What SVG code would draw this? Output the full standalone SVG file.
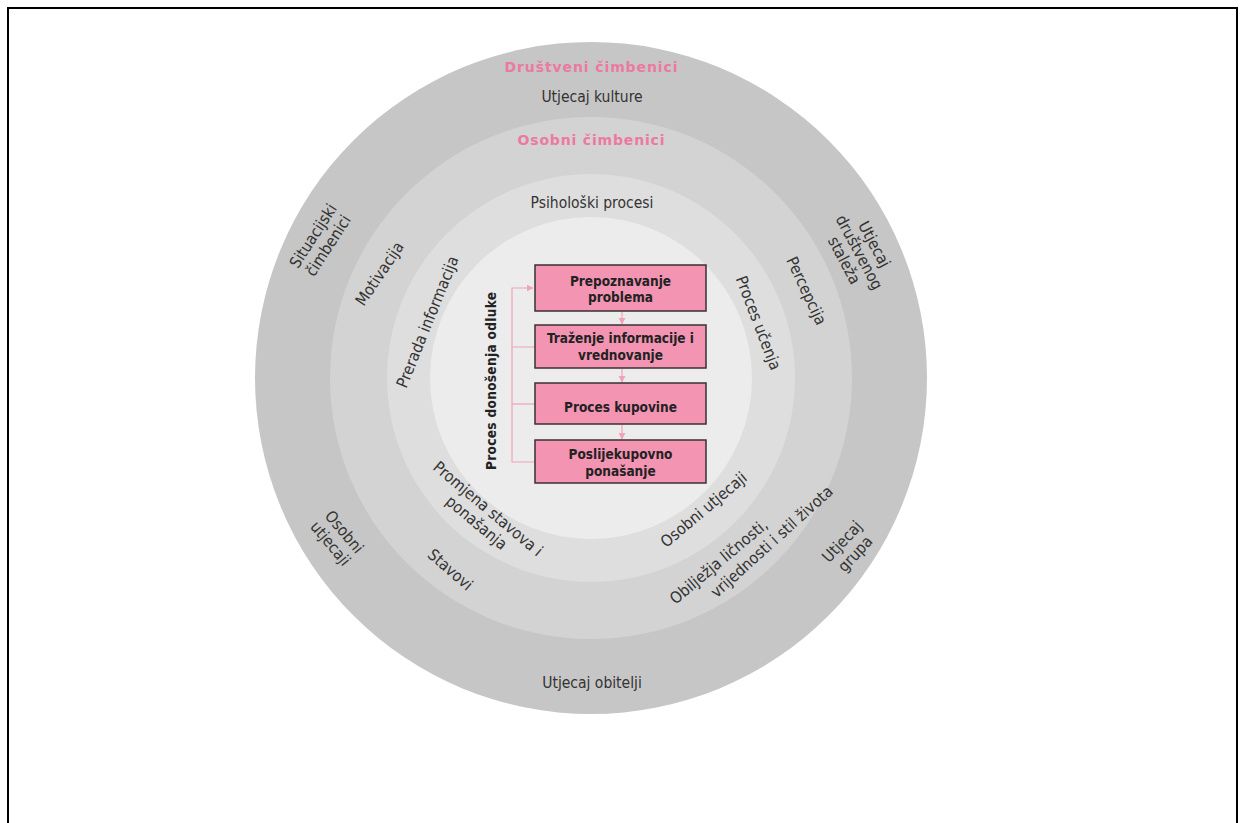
<svg xmlns="http://www.w3.org/2000/svg" width="1245" height="823" viewBox="0 0 1245 823">
<defs>
<style>
.t{font-family:"DejaVu Sans Condensed","DejaVu Sans","Liberation Sans",sans-serif;font-size:16px;fill:#333;text-anchor:middle}
.h{font-family:"DejaVu Sans Condensed","DejaVu Sans","Liberation Sans",sans-serif;font-size:15.5px;fill:#333;text-anchor:middle}
.p{font-family:"DejaVu Sans","Liberation Sans",sans-serif;font-size:14px;font-weight:bold;fill:#ec7aa0;text-anchor:middle}
.b{font-family:"DejaVu Sans Condensed","DejaVu Sans","Liberation Sans",sans-serif;font-size:13.5px;font-weight:bold;fill:#222;text-anchor:middle}
.box{fill:#f394b2;stroke:#3a3033;stroke-width:1.5}
.c{stroke:#f2a2bb;stroke-width:1.2;fill:none}
</style>
<marker id="ah" viewBox="0 0 10 10" refX="9" refY="5" markerWidth="6" markerHeight="6" orient="auto">
<path d="M0,0 L10,5 L0,10 z" fill="#f2a2bb"/>
</marker>
<linearGradient id="lg" x1="0" x2="1" y1="0" y2="0">
<stop offset="0" stop-color="#aaa"/>
<stop offset="0.5" stop-color="#333"/>
<stop offset="1" stop-color="#666"/>
</linearGradient>
</defs>
<rect x="0" y="0" width="1245" height="823" fill="#fff"/>
<rect x="8" y="8" width="1229" height="830" fill="none" stroke="#000" stroke-width="2"/>
<line x1="263" y1="193" x2="312" y2="193" stroke="url(#lg)" stroke-width="2"/>

<g id="rings">
<circle cx="591" cy="378" r="336" fill="#c6c6c6"/>
<circle cx="591" cy="378" r="261" fill="#d3d3d3"/>
<circle cx="591" cy="378" r="204" fill="#dedede"/>
<circle cx="591" cy="378" r="161" fill="#ececec"/>
</g>

<g id="outer-labels">
<text class="p" x="591" y="72" textLength="173">Društveni čimbenici</text>
<text class="h" x="592" y="102">Utjecaj kulture</text>
<text class="h" x="592" y="688">Utjecaj obitelji</text>
<g transform="translate(321,241) rotate(-57)"><text class="t" y="-4">Situacijski</text><text class="t" y="14">čimbenici</text></g>
<g transform="translate(858,253) rotate(62)"><text class="t" y="-13">Utjecaj</text><text class="t" y="4">društvenog</text><text class="t" y="21">staleža</text></g>
<g transform="translate(337,538) rotate(50)"><text class="t" y="-4">Osobni</text><text class="t" y="14">utjecaji</text></g>
<g transform="translate(849,548) rotate(-47)"><text class="t" y="-4">Utjecaj</text><text class="t" y="14">grupa</text></g>
</g>

<g id="ring2-labels">
<text class="p" x="591" y="145" textLength="147">Osobni čimbenici</text>
<g transform="translate(380,274) rotate(-56)"><text class="t" y="5">Motivacija</text></g>
<g transform="translate(806,291) rotate(65)"><text class="t" y="5">Percepcija</text></g>
<g transform="translate(450,570) rotate(41)"><text class="t" y="5">Stavovi</text></g>
<g transform="translate(719,562) rotate(-40)"><text class="t" y="5">Obilježja ličnosti,</text></g>
<g transform="translate(772,542) rotate(-42)"><text class="t" y="5">vrijednosti i stil života</text></g>
</g>

<g id="ring3-labels">
<text class="h" x="592" y="208">Psihološki procesi</text>
<g transform="translate(428,322) rotate(-68)"><text class="t" y="5">Prerada informacija</text></g>
<g transform="translate(758,323) rotate(69)"><text class="t" y="5">Proces učenja</text></g>
<g transform="translate(482,516) rotate(40)"><text class="t" y="-4">Promjena stavova i</text><text class="t" y="14">ponašanja</text></g>
<g transform="translate(704,510) rotate(-40)"><text class="t" y="5">Osobni utjecaji</text></g>
</g>

<g id="connectors">
<polyline class="c" points="535,347 512,347 512,462 535,462"/>
<line class="c" x1="512" y1="404" x2="535" y2="404"/>
<polyline class="c" points="512,347 512,288 533,288" marker-end="url(#ah)"/>
<line class="c" x1="622" y1="312" x2="622" y2="324" marker-end="url(#ah)"/>
<line class="c" x1="622" y1="369" x2="622" y2="382" marker-end="url(#ah)"/>
<line class="c" x1="622" y1="425" x2="622" y2="439" marker-end="url(#ah)"/>
</g>

<g id="proces-label">
<text class="b" transform="translate(496,381) rotate(-90)" textLength="178">Proces donošenja odluke</text>
</g>

<g id="box1">
<rect class="box" x="535" y="265" width="171" height="46"/>
<text class="b" x="620.5" y="286">Prepoznavanje</text>
<text class="b" x="620.5" y="302">problema</text>
</g>
<g id="box2">
<rect class="box" x="535" y="325" width="171" height="43"/>
<text class="b" x="620.5" y="343">Traženje informacije i</text>
<text class="b" x="620.5" y="360">vrednovanje</text>
</g>
<g id="box3">
<rect class="box" x="535" y="383" width="171" height="41"/>
<text class="b" x="620.5" y="412">Proces kupovine</text>
</g>
<g id="box4">
<rect class="box" x="535" y="440" width="171" height="43"/>
<text class="b" x="620.5" y="459">Poslijekupovno</text>
<text class="b" x="620.5" y="476">ponašanje</text>
</g>
</svg>
